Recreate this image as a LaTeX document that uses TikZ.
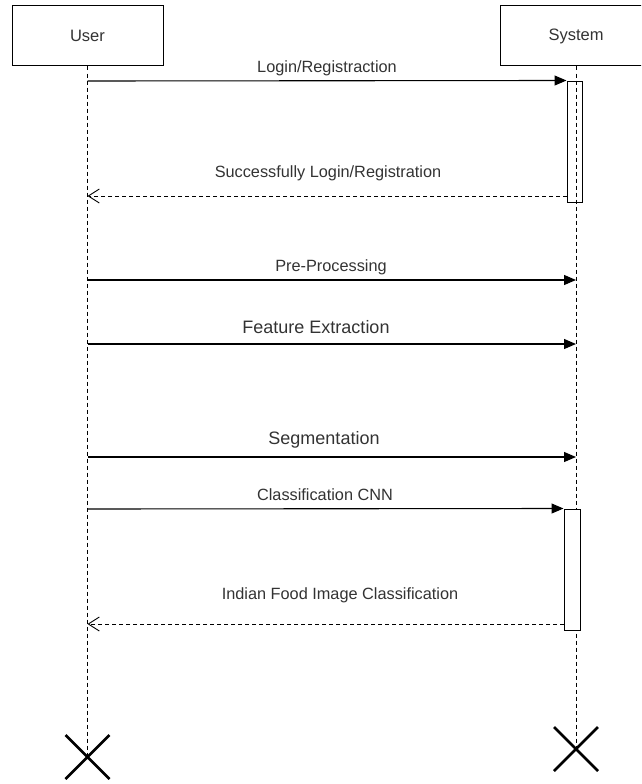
\documentclass[tikz,border=0pt]{standalone}
\usepackage{fontspec}
\setmainfont{Liberation Sans}
\usetikzlibrary{arrows.meta}
\definecolor{txt}{HTML}{333333}
\begin{document}
\begin{tikzpicture}[x=1pt,y=-1pt,
  actor/.style={draw, line width=1pt, minimum width=151pt, minimum height=60pt,
    inner sep=0pt, font=\fontsize{16.5}{18}\selectfont, text=txt},
  life/.style={line width=0.9pt, dash pattern=on 4pt off 3pt},
  activation/.style={draw, line width=1pt, inner sep=0pt},
  call/.style={line width=1.1pt, -{Triangle[length=12pt,width=10pt]}},
  reply/.style={line width=0.9pt, dash pattern=on 4pt off 3pt,
    -{Straight Barb[length=11pt,width=14pt,line width=0.9pt]}},
  msg/.style={font=\fontsize{16.3}{18}\selectfont, text=txt, inner sep=0pt},
  bigmsg/.style={font=\fontsize{18}{20}\selectfont, text=txt, inner sep=0pt},
  destroy/.style={line width=2.6pt}]
\useasboundingbox (0,0) rectangle (641,784);
\clip (0,0) rectangle (641,784);

% participants
\node[actor] (user) at (87.5,36) {User};
\node[actor] (sys) at (576,36) {System};

% lifeline ends
\coordinate (userEnd) at (87.5,757);
\coordinate (sysEnd) at (576,749);
\draw[life] (user.south) -- (userEnd);
\draw[life] (sys.south) -- (sysEnd);

% activation bars
\node[activation, minimum width=15pt, minimum height=121pt] (act1) at (574.5,141.5) {};
\node[activation, fill=white, minimum width=16pt, minimum height=121pt] (act2) at (572,569.5) {};

% message end points
\coordinate (u1) at (87.5,81);
\coordinate (u2) at (87.5,196);  \coordinate (s2) at (567,196);
\coordinate (u3) at (87.5,280);  \coordinate (s3) at (576,280);
\coordinate (u4) at (87.5,344);  \coordinate (s4) at (576,344);
\coordinate (u5) at (87.5,457);  \coordinate (s5) at (576,457);
\coordinate (u6) at (87.5,509);
\coordinate (u7) at (87.5,624);  \coordinate (s7) at (564,624);

% messages
\draw[call] (u1) -- (act1.north west);
\node[msg] (m1) at (327,68) {Login/Registraction};

\draw[reply] (s2) -- (u2);
\node[msg] (m2) at (328,173) {Successfully Login/Registration};

\draw[call] (u3) -- (s3);
\node[msg] (m3) at (331,267) {Pre-Processing};

\draw[call] (u4) -- (s4);
\node[bigmsg] (m4) at (316,327) {Feature Extraction};

\draw[call] (u5) -- (s5);
\node[bigmsg] (m5) at (324,440) {Segmentation};

\draw[call] (u6) -- (act2.north west);
\node[msg] (m6) at (325,495) {Classification CNN};

\draw[reply] (s7) -- (u7);
\node[msg] (m7) at (340,595) {Indian Food Image Classification};

% destruction marks
\draw[destroy] ([shift={(-22,-22)}]userEnd) -- ([shift={(22,22)}]userEnd)
               ([shift={(-22,22)}]userEnd) -- ([shift={(22,-22)}]userEnd);
\draw[destroy] ([shift={(-22,-22)}]sysEnd) -- ([shift={(22,22)}]sysEnd)
               ([shift={(-22,22)}]sysEnd) -- ([shift={(22,-22)}]sysEnd);
\end{tikzpicture}
\end{document}
